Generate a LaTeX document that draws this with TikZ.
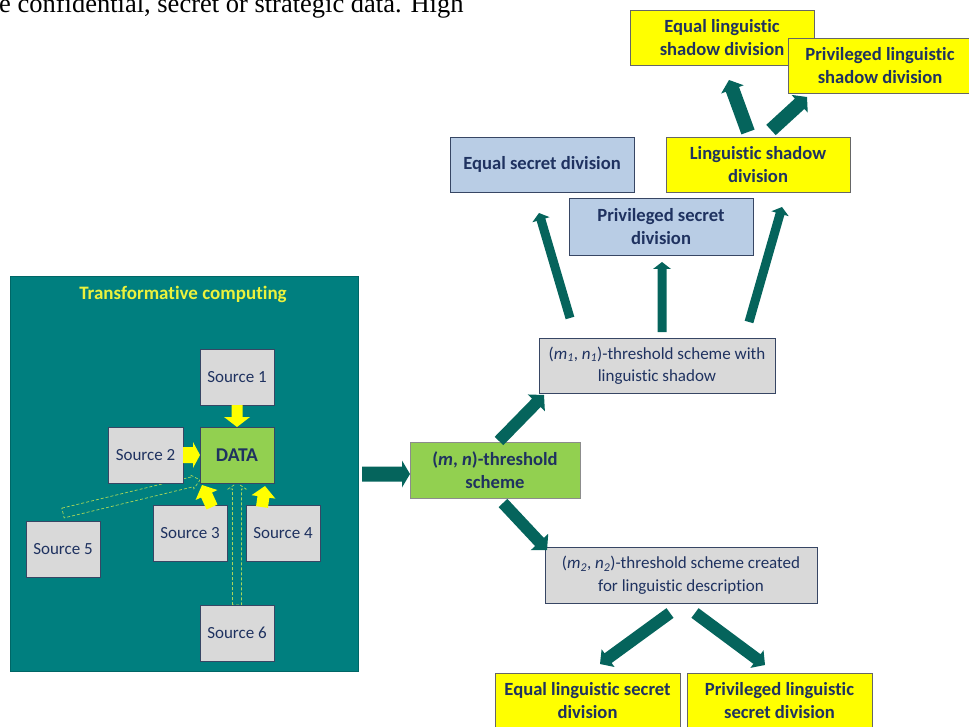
\documentclass[tikz,border=0pt]{standalone}
\usepackage{fontspec}
\setmainfont{Carlito}[Ligatures=NoCommon]
\newfontfamily\timesf{Liberation Serif}
\usetikzlibrary{calc}
\definecolor{tealbg}{RGB}{0,127,127}
\definecolor{tealarr}{RGB}{5,100,92}
\definecolor{navytxt}{RGB}{31,50,96}
\definecolor{boxgray}{RGB}{217,217,217}
\definecolor{boxblue}{RGB}{185,205,229}
\definecolor{boxgreen}{RGB}{146,208,80}
\definecolor{boxyellow}{RGB}{255,255,0}
\definecolor{edgecol}{RGB}{55,70,100}
\definecolor{titleyel}{RGB}{235,242,60}
\definecolor{dashgreen}{RGB}{170,215,90}
\newcommand{\barrow}[6]{%
  \coordinate (bah) at ($(#3)!#6!(#2)$);
  \path[#1] ($(#2)!#4!90:(#3)$) -- ($(bah)!#4!90:(#3)$) -- ($(bah)!#5!90:(#3)$) -- (#3)
    -- ($(bah)!#5!-90:(#3)$) -- ($(bah)!#4!-90:(#3)$) -- ($(#2)!#4!-90:(#3)$) -- cycle;}
\tikzset{
  basebox/.style={draw=edgecol, line width=0.8pt, inner sep=0pt, align=center, text=navytxt},
  regtxt/.style={font=\fontsize{17pt}{22.5pt}\selectfont},
  boldtxt/.style={font=\fontsize{18.6pt}{23pt}\selectfont\bfseries},
  srcbox/.style={basebox, regtxt, fill=boxgray, minimum width=74pt, minimum height=56pt},
  graybox/.style={basebox, regtxt, fill=boxgray},
  bluebox/.style={basebox, boldtxt, fill=boxblue},
  yelbox/.style={basebox, boldtxt, fill=boxyellow, draw=black!60},
  greenbox/.style={basebox, boldtxt, fill=boxgreen},
  tealfill/.style={fill=tealarr},
  yelfill/.style={fill=boxyellow},
  dashout/.style={draw=dashgreen, line width=0.7pt, dash pattern=on 3pt off 2pt}
}
\begin{document}
\begin{tikzpicture}[x=1pt,y=-1pt]
\useasboundingbox (0,0) rectangle (969,727);
\clip (0,0) rectangle (969,727);
% top cropped text line
\node[anchor=base west, inner sep=0pt, font=\timesf\fontsize{26.5pt}{30pt}\selectfont] (toptext) at (-1,13) {e confidential, secret or strategic data. High};
% transformative computing panel
\node[fill=tealbg, draw=tealbg!80!black, line width=0.5pt, minimum width=348pt, minimum height=395pt, inner sep=0pt] (tc) at (184,473.5) {};
\node[font=\fontsize{19pt}{22pt}\selectfont\bfseries, text=titleyel] (title) at (183,294) {Transformative computing};
% dashed hollow arrows
\coordinate (d5a) at (63,513); \coordinate (d5b) at (200,480);
\coordinate (d6a) at (237,605); \coordinate (d6b) at (237,483);
\barrow{dashout}{d5a}{d5b}{5pt}{7pt}{8pt}
\barrow{dashout}{d6a}{d6b}{4.5pt}{9pt}{6pt}
% sources
\node[srcbox] (s1) at (237,377) {Source 1};
\node[basebox, fill=boxgreen, minimum width=74pt, minimum height=56pt, font=\fontsize{19.5pt}{22pt}\selectfont\bfseries] (data) at (237,455) {DATA};
\node[srcbox, minimum width=75pt] (s2) at (145.5,455) {Source 2};
\node[srcbox] (s3) at (190,533) {Source 3};
\node[srcbox] (s4) at (283,533) {Source 4};
\node[srcbox] (s5) at (63,549) {Source 5};
\node[srcbox] (s6) at (237,633) {Source 6};
% yellow arrows
\coordinate (y1a) at (237,405); \coordinate (y1b) at (237,427);
\coordinate (y2a) at (183,455); \coordinate (y2b) at (200,455);
\coordinate (y3a) at (212,507); \coordinate (y3b) at (202,485);
\coordinate (y4a) at (262,507); \coordinate (y4b) at (265,486);
\barrow{yelfill}{y1a}{y1b}{5.5pt}{13pt}{10pt}
\barrow{yelfill}{y2a}{y2b}{8pt}{13pt}{7pt}
\barrow{yelfill}{y3a}{y3b}{6pt}{12pt}{11pt}
\barrow{yelfill}{y4a}{y4b}{6pt}{12pt}{11pt}
% right side boxes
\node[greenbox, minimum width=170pt, minimum height=56pt, draw=black!45] (mn) at (495,470) {(\textit{m}, \textit{n})-threshold\\scheme};
\node[graybox, minimum width=236pt, minimum height=55pt] (m1) at (657,365.5) {(\textit{m\textsubscript{1}}, \textit{n\textsubscript{1}})-threshold scheme with\\linguistic shadow};
\node[graybox, minimum width=272pt, minimum height=56pt] (m2) at (681,575) {(\textit{m\textsubscript{2}}, \textit{n\textsubscript{2}})-threshold scheme created\\for linguistic description};
\node[bluebox, minimum width=184pt, minimum height=55pt] (esd) at (542,164.5) {Equal secret division};
\node[bluebox, minimum width=184pt, minimum height=57pt] (psd) at (661,226.5) {Privileged secret\\division};
\node[yelbox, minimum width=184pt, minimum height=55pt] (lsd) at (758,164.5) {Linguistic shadow\\division};
\node[yelbox, minimum width=184pt, minimum height=55pt] (elsd) at (722,37.5) {Equal linguistic\\shadow division};
\node[yelbox, minimum width=184pt, minimum height=55pt] (plsd) at (880,65.5) {Privileged linguistic\\shadow division};
\node[yelbox, minimum width=185pt, minimum height=56pt] (else) at (587.5,701) {Equal linguistic secret\\division};
\node[yelbox, minimum width=185pt, minimum height=56pt] (plse) at (779.5,701) {Privileged linguistic\\secret division};
% teal arrows
\coordinate (t1a) at (362,474); \coordinate (t1b) at (410,474);
\coordinate (t2a) at (499,441); \coordinate (t2b) at (544,395);
\coordinate (t3a) at (503,503); \coordinate (t3b) at (547,550);
\coordinate (t4a) at (570,318); \coordinate (t4b) at (539,213);
\coordinate (t5a) at (662,332); \coordinate (t5b) at (662,262);
\coordinate (t6a) at (749,322); \coordinate (t6b) at (782,207);
\coordinate (t7a) at (748,132); \coordinate (t7b) at (729,80);
\coordinate (t8a) at (771,130); \coordinate (t8b) at (807,97);
\coordinate (t9a) at (670,613); \coordinate (t9b) at (600,664);
\coordinate (t10a) at (695,613); \coordinate (t10b) at (765,665);
\barrow{tealfill}{t1a}{t1b}{7.5pt}{13.5pt}{8pt}
\barrow{tealfill}{t2a}{t2b}{6pt}{12pt}{11pt}
\barrow{tealfill}{t3a}{t3b}{6pt}{12pt}{11pt}
\barrow{tealfill}{t4a}{t4b}{4.5pt}{9pt}{7pt}
\barrow{tealfill}{t5a}{t5b}{4.5pt}{9pt}{7pt}
\barrow{tealfill}{t6a}{t6b}{4.5pt}{9pt}{7pt}
\barrow{tealfill}{t7a}{t7b}{7pt}{12pt}{10pt}
\barrow{tealfill}{t8a}{t8b}{7pt}{12pt}{10pt}
\barrow{tealfill}{t9a}{t9b}{6pt}{11pt}{10pt}
\barrow{tealfill}{t10a}{t10b}{6pt}{11pt}{10pt}
\end{tikzpicture}
\end{document}
